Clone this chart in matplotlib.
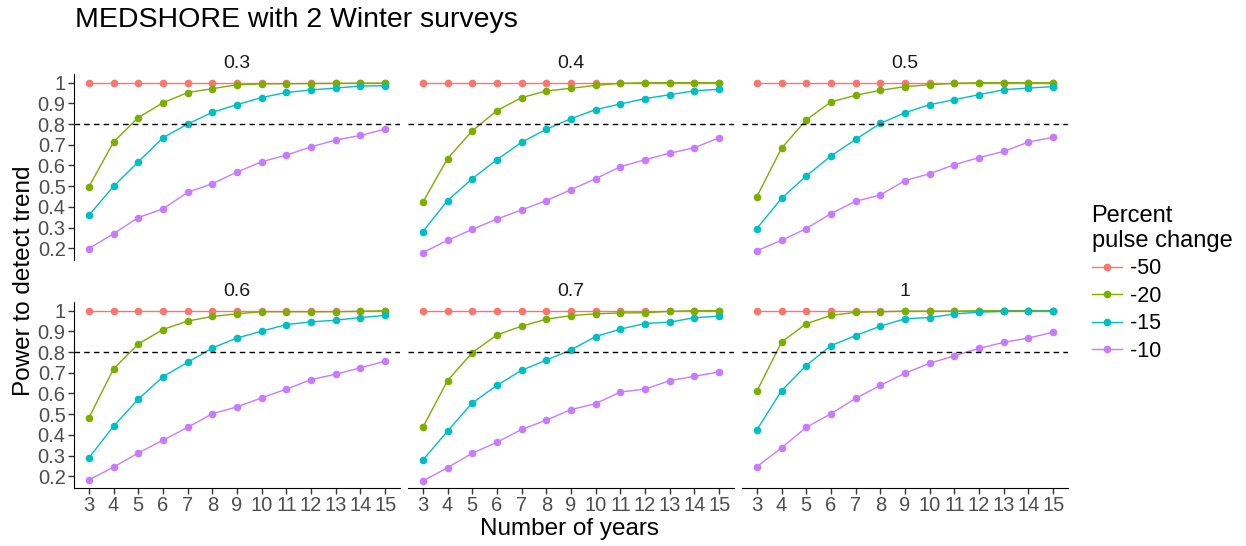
import matplotlib
matplotlib.use("Agg")
import matplotlib.pyplot as plt
from matplotlib.lines import Line2D

plt.rcParams['font.family'] = ['Liberation Sans', 'DejaVu Sans']

years = list(range(3, 16))
panels = ["0.3", "0.4", "0.5", "0.6", "0.7", "1"]
changes = ["-50", "-20", "-15", "-10"]
colors = ["#F8766D", "#7CAE00", "#00BFC4", "#C77CFF"]

# power values per panel, one list per percent change
red = [1.0] * 13
p03 = {
    "-50": red,
    "-20": [0.496, 0.713, 0.831, 0.903, 0.952, 0.971, 0.990, 0.994, 0.995, 0.996, 0.997, 0.998, 0.998],
    "-15": [0.359, 0.499, 0.617, 0.734, 0.800, 0.857, 0.894, 0.928, 0.953, 0.965, 0.974, 0.984, 0.985],
    "-10": [0.198, 0.270, 0.348, 0.390, 0.470, 0.512, 0.568, 0.618, 0.650, 0.690, 0.723, 0.745, 0.776],
}
p04 = {
    "-50": red,
    "-20": [0.422, 0.633, 0.767, 0.865, 0.928, 0.960, 0.973, 0.987, 0.997, 1.0, 1.0, 1.0, 1.0],
    "-15": [0.280, 0.430, 0.536, 0.628, 0.712, 0.775, 0.826, 0.870, 0.897, 0.923, 0.942, 0.961, 0.968],
    "-10": [0.179, 0.238, 0.291, 0.341, 0.385, 0.430, 0.483, 0.536, 0.594, 0.628, 0.659, 0.686, 0.734],
}
p05 = {
    "-50": red,
    "-20": [0.449, 0.683, 0.820, 0.907, 0.939, 0.963, 0.981, 0.990, 0.997, 1.0, 1.0, 1.0, 1.0],
    "-15": [0.295, 0.441, 0.549, 0.646, 0.726, 0.803, 0.855, 0.894, 0.918, 0.942, 0.966, 0.974, 0.981],
    "-10": [0.188, 0.238, 0.295, 0.367, 0.427, 0.457, 0.527, 0.560, 0.604, 0.638, 0.668, 0.713, 0.736],
}
p06 = {
    "-50": red,
    "-20": [0.481, 0.719, 0.839, 0.909, 0.950, 0.972, 0.985, 0.995, 0.995, 0.995, 0.995, 0.997, 1.0],
    "-15": [0.288, 0.442, 0.572, 0.681, 0.750, 0.820, 0.868, 0.901, 0.933, 0.946, 0.954, 0.967, 0.977],
    "-10": [0.182, 0.244, 0.312, 0.374, 0.436, 0.502, 0.535, 0.579, 0.621, 0.667, 0.693, 0.724, 0.756],
}
p07 = {
    "-50": red,
    "-20": [0.436, 0.662, 0.797, 0.883, 0.925, 0.959, 0.976, 0.985, 0.989, 0.990, 0.997, 1.0, 1.0],
    "-15": [0.278, 0.418, 0.554, 0.639, 0.712, 0.761, 0.811, 0.875, 0.911, 0.938, 0.945, 0.966, 0.974],
    "-10": [0.177, 0.241, 0.311, 0.364, 0.426, 0.471, 0.522, 0.551, 0.607, 0.621, 0.662, 0.683, 0.704],
}
p1 = {
    "-50": red,
    "-20": [0.610, 0.848, 0.937, 0.977, 0.992, 0.995, 0.998, 0.998, 0.998, 1.0, 1.0, 1.0, 1.0],
    "-15": [0.424, 0.613, 0.735, 0.831, 0.880, 0.925, 0.961, 0.967, 0.984, 0.993, 0.997, 0.997, 0.998],
    "-10": [0.246, 0.337, 0.436, 0.502, 0.576, 0.639, 0.698, 0.746, 0.782, 0.818, 0.847, 0.868, 0.896],
}
data = [p03, p04, p05, p06, p07, p1]

W, H = 1246, 546
fig = plt.figure(figsize=(W / 100, H / 100), dpi=100)

lefts = [74, 408, 742]
tops = [74, 302]
pw, ph = 326, 186
yticks = [1, 0.9, 0.8, 0.7, 0.6, 0.5, 0.4, 0.3, 0.2]
ylabels = ["1", "0.9", "0.8", "0.7", "0.6", "0.5", "0.4", "0.3", "0.2"]

for i, name in enumerate(panels):
    r, c = divmod(i, 3)
    ax = fig.add_axes([lefts[c] / W, 1 - (tops[r] + ph) / H, pw / W, ph / H])
    for ch, col in zip(changes, colors):
        ax.plot(years, data[i][ch], color=col, lw=1.0, marker="o", ms=5.5,
                markeredgewidth=0)
    ax.axhline(0.8, color="black", lw=1.0, ls=(0, (4, 3)))
    ax.set_xlim(2.4, 15.6)
    ax.set_ylim(0.143, 1.042)
    ax.set_title(name, fontsize=14, pad=4, color="#1A1A1A")
    for s in ["top", "right"]:
        ax.spines[s].set_visible(False)
    ax.spines["left"].set_visible(c == 0)
    ax.spines["bottom"].set_visible(r == 1)
    ax.set_xticks(years)
    ax.set_yticks(yticks)
    ax.tick_params(colors="#333333", labelcolor="#4D4D4D", labelsize=14.5,
                   length=4, width=1, pad=2)
    if c == 0:
        ax.set_yticklabels(ylabels)
    else:
        ax.tick_params(axis="y", left=False, labelleft=False)
    if r == 0:
        ax.tick_params(axis="x", bottom=False, labelbottom=False)
    else:
        ax.set_xticklabels([str(y) for y in years])

fig.text(75 / W, 1 - 20 / H, "MEDSHORE with 2 Winter surveys", fontsize=20.5,
         va="center", ha="left")
fig.text(24 / W, 1 - 281 / H, "Power to detect trend", fontsize=17.5,
         rotation=90, va="center", ha="center")
fig.text(570 / W, 1 - 529 / H, "Number of years", fontsize=17.5,
         va="center", ha="center")

handles = [Line2D([], [], color=col, lw=1.0, marker="o", ms=5.5, markeredgewidth=0)
           for col in colors]
leg = fig.legend(handles, changes, title="Percent\npulse change",
                 loc="upper left", bbox_to_anchor=(1083 / W, 1 - 196 / H),
                 frameon=False, fontsize=15.5, title_fontsize=17,
                 handlelength=1.4, labelspacing=0.3, handletextpad=0.4,
                 borderaxespad=0)
leg._legend_box.align = "left"

fig.savefig("out.png", dpi=100)
